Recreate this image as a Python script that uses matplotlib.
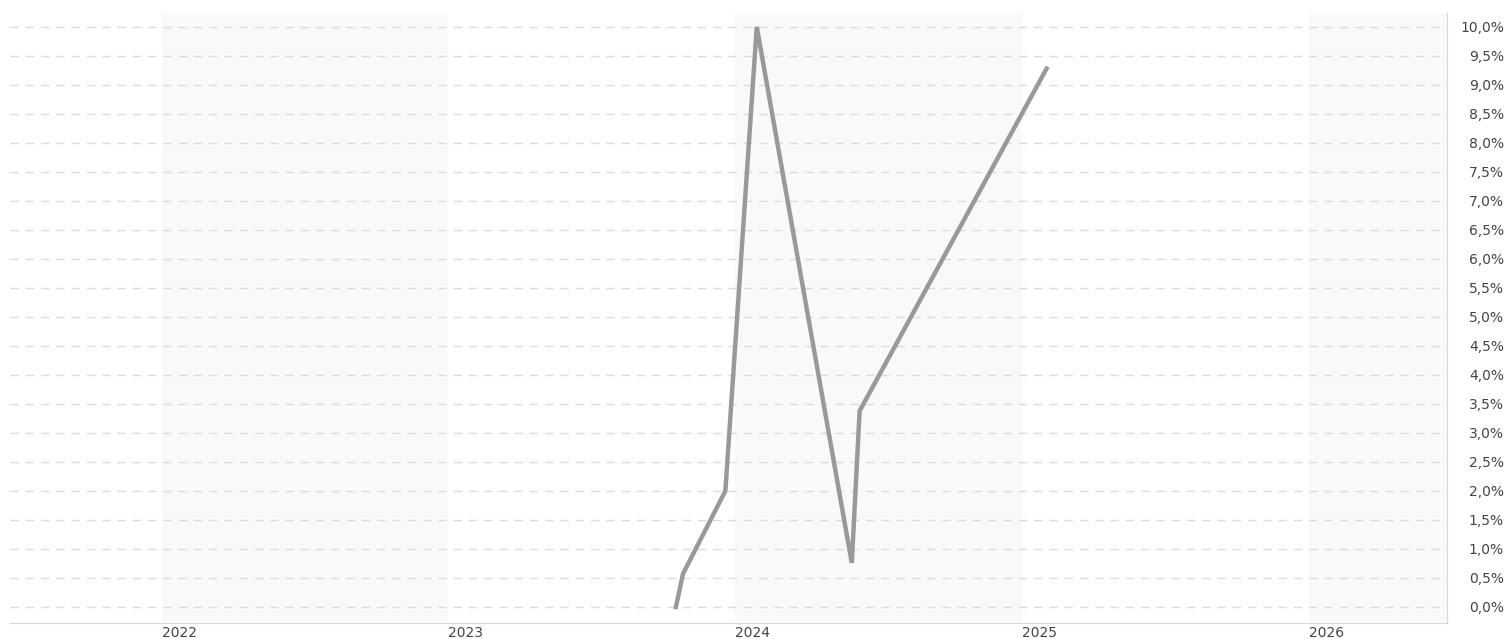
import matplotlib
matplotlib.use("Agg")
import matplotlib.pyplot as plt
import matplotlib.dates as mdates
from matplotlib.ticker import FixedLocator, FuncFormatter
from datetime import datetime

# Data
dates = ["2023-10-18", "2023-10-27", "2023-12-20", "2024-01-29",
         "2024-05-29", "2024-06-08", "2025-02-01"]
values = [0.0, 0.57, 2.0, 10.0, 0.76, 3.38, 9.28]
years = [2022, 2023, 2024, 2025, 2026]
shaded_years = [2022, 2024, 2026]
y_ticks = [i * 0.5 for i in range(21)]

x = [mdates.date2num(datetime.strptime(d, "%Y-%m-%d")) for d in dates]

fig = plt.figure(figsize=(15.11, 6.39), dpi=100)
ax = fig.add_axes([10 / 1511, 16 / 639, 1437 / 1511, 610 / 639])

xmin = mdates.date2num(datetime(2021, 6, 22))
xmax = mdates.date2num(datetime(2026, 6, 26))
ax.set_xlim(xmin, xmax)
ax.set_ylim(-0.276, 10.24)

for yr in shaded_years:
    a = mdates.date2num(datetime(yr, 1, 1))
    b = mdates.date2num(datetime(yr + 1, 1, 1))
    ax.axvspan(a, min(b, xmax), color="#f9f9f9", zorder=0, lw=0)

for yv in y_ticks:
    ax.axhline(yv, color="#dcdcdc", lw=1, dashes=(6, 5), zorder=1)

ax.plot(x, values, color="#999999", lw=3.2, solid_joinstyle="miter", zorder=3)

for s in ["top", "left"]:
    ax.spines[s].set_visible(False)
ax.spines["bottom"].set_color("#d8d8d8")
ax.spines["right"].set_color("#d8d8d8")

ax.yaxis.tick_right()
ax.yaxis.set_major_locator(FixedLocator(y_ticks))
ax.yaxis.set_major_formatter(FuncFormatter(lambda v, p: f"{v:.1f}".replace(".", ",") + "%"))
ax.tick_params(axis="y", length=0, pad=41, labelsize=10, labelcolor="#444444")
for lbl in ax.get_yticklabels():
    lbl.set_horizontalalignment("right")

xt = [mdates.date2num(datetime(yr, 1, 1)) for yr in years]
ax.xaxis.set_major_locator(FixedLocator(xt))
ax.xaxis.set_major_formatter(FuncFormatter(lambda v, p: str(mdates.num2date(v).year)))
ax.tick_params(axis="x", length=0, pad=2, labelsize=10, labelcolor="#444444")
for lbl in ax.get_xticklabels():
    lbl.set_horizontalalignment("left")

fig.savefig("out.png", dpi=100, facecolor="white")
